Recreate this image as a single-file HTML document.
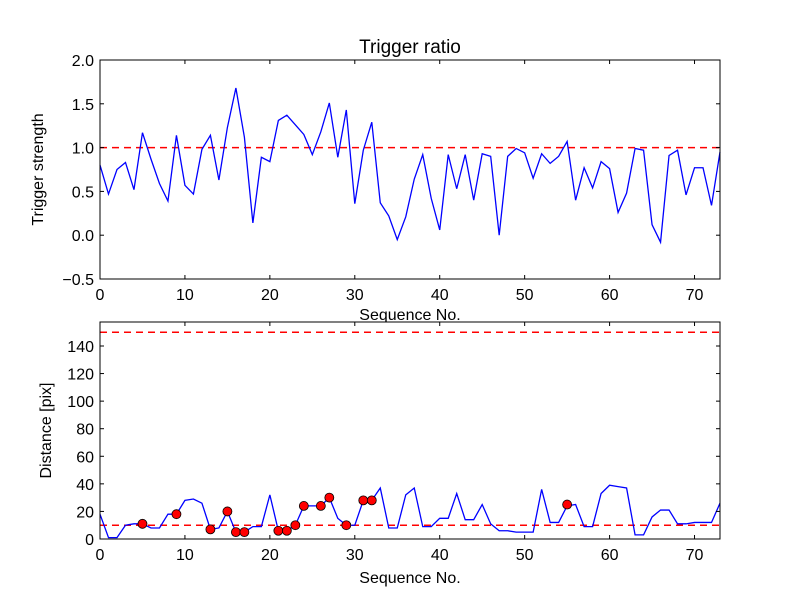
<!DOCTYPE html>
<html><head><meta charset="utf-8"><style>
body{margin:0;background:#fff}
svg{display:block;font-family:"Liberation Sans","DejaVu Sans",sans-serif}
</style></head><body>
<svg id="fig" width="800" height="600">
<rect width="800" height="600" fill="#fff"/>
</svg>
<script>
const seqTop = [0.8,0.47,0.75,0.83,0.52,1.17,0.87,0.59,0.39,1.14,0.57,0.47,0.98,1.14,0.63,1.23,1.68,1.12,0.14,0.89,0.84,1.31,1.37,1.26,1.15,0.92,1.18,1.51,0.89,1.43,0.36,0.97,1.29,0.37,0.22,-0.05,0.21,0.64,0.92,0.42,0.06,0.92,0.53,0.92,0.40,0.93,0.90,0.0,0.90,0.99,0.94,0.65,0.93,0.82,0.90,1.07,0.40,0.77,0.54,0.84,0.76,0.26,0.48,0.99,0.97,0.12,-0.08,0.91,0.97,0.46,0.77,0.77,0.34,0.95];
const distance = [18,1,1,10,11,11,8,8,18,18,28,29,26,7,8,20,5,5,9,9,32,6,6,10,24,24,24,30,15,10,10,28,28,37,8,8,32,37,9,9,15,15,33,14,14,25,11,6,6,5,5,5,36,12,12,24,25,9,9,33,39,38,37,3,3,16,21,21,11,11,12,12,12,26];
const markerIdx = [5,9,13,15,16,17,21,22,23,24,26,27,29,31,32,55];
const markerVal = [11,18,7,20,5,5,6,6,10,24,24,30,10,28,28,25];
const xTicks = [0,10,20,30,40,50,60,70];
const topYTicks = [-0.5,0,0.5,1.0,1.5,2.0];
const topYLabels = ["\u22120.5","0.0","0.5","1.0","1.5","2.0"];
const botYTicks = [0,20,40,60,80,100,120,140];
const topThreshold = 1.0;
const botThresholds = [10,150];

const NS="http://www.w3.org/2000/svg";
const svg=document.getElementById('fig');
function el(t,a,p){const e=document.createElementNS(NS,t);for(const k in a)e.setAttribute(k,a[k]);(p||svg).appendChild(e);return e;}
const X0=100,X1=720;
const sx=v=>X0+(v/73)*(X1-X0);
const tY0=60,tY1=279; const syT=v=>tY0+(2-v)/2.5*(tY1-tY0);
const bY0=322,bY1=539; const syB=v=>bY1-v/157.4*(bY1-bY0);

function axes(name,y0,y1){
  const g=el('g',{},svg);
  
  
  el('rect',{x:X0,y:y0,width:X1-X0,height:y1-y0,fill:'#fff'},g);
  return g;
}
function frame(g,y0,y1,sy,yt,yl,ylabel,ylabX,xtOff){
  el('rect',{x:X0,y:y0,width:X1-X0,height:y1-y0,fill:'none',stroke:'#000','stroke-width':1},g);
  xTicks.forEach(t=>{
    const x=sx(t);
    el('line',{x1:x,x2:x,y1:y1,y2:y1-4,stroke:'#000'},g);
    el('line',{x1:x,x2:x,y1:y0,y2:y0+4,stroke:'#000'},g);
    const tx=el('text',{x:x,y:y1+21,'text-anchor':'middle','font-size':16},g);
    tx.textContent=t;
    
    
  });
  yt.forEach((t,i)=>{
    const y=sy(t);
    el('line',{x1:X0,x2:X0+4,y1:y,y2:y,stroke:'#000'},g);
    el('line',{x1:X1,x2:X1-4,y1:y,y2:y,stroke:'#000'},g);
    const tx=el('text',{x:X0-6,y:y+6,'text-anchor':'end','font-size':16},g);
    tx.textContent=yl[i];
    
    
  });
  const xl=el('text',{x:410,y:y1+xtOff,'text-anchor':'middle','font-size':16},g);
  xl.textContent='Sequence No.';
  
  
  const yy=(y0+y1)/2;
  const t=el('text',{x:ylabX,y:yy,'text-anchor':'middle','font-size':16,transform:`rotate(-90 ${ylabX} ${yy})`},g);
  t.textContent=ylabel;
  
  
}

// top
const gt=axes('trigger-axes',tY0,tY1);
el('line',{x1:X0,x2:X1,y1:syT(topThreshold),y2:syT(topThreshold),stroke:'#f00','stroke-dasharray':'7,5','stroke-width':1.5},gt);
const lt=el('polyline',{points:seqTop.map((v,i)=>sx(i)+','+syT(v)).join(' '),fill:'none',stroke:'#00f','stroke-width':1.3},gt);


frame(gt,tY0,tY1,syT,topYTicks,topYLabels,'Trigger strength',43,41);
const ti=el('text',{x:410,y:53,'text-anchor':'middle','font-size':19},gt);
ti.textContent='Trigger ratio';



// bottom
const gb=axes('distance-axes',bY0,bY1);
botThresholds.forEach(v=>{
  const l=el('line',{x1:X0,x2:X1,y1:syB(v),y2:syB(v),stroke:'#f00','stroke-dasharray':'7,5','stroke-width':1.5},gb);
  
});
const lb=el('polyline',{points:distance.map((v,i)=>sx(i)+','+syB(v)).join(' '),fill:'none',stroke:'#00f','stroke-width':1.3},gb);


markerIdx.forEach((ix,i)=>{
  const c=el('circle',{cx:sx(ix),cy:syB(markerVal[i]),r:4.5,fill:'#f00',stroke:'#000','stroke-width':0.8},gb);
  
  
});
frame(gb,bY0,bY1,syB,botYTicks,botYTicks.map(String),'Distance [pix]',51,44);
</script>
</body></html>
